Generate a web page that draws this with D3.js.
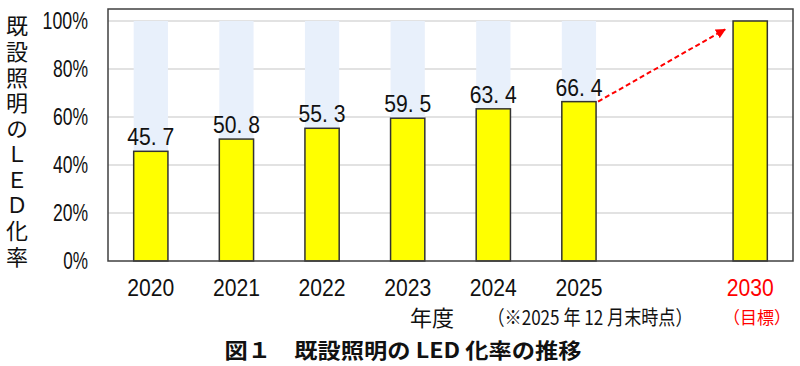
<!DOCTYPE html>
<html><head><meta charset="utf-8">
<script src="https://cdn.jsdelivr.net/npm/d3@7"></script>
<style>
body{margin:0;background:#fff;}
svg{display:block;}
</style></head>
<body>
<svg id="c" width="800" height="366"></svg>
<script>
const slots = ["2020","2021","2022","2023","2024","2025","_gap","2030"];
const years = ["2020","2021","2022","2023","2024","2025","2030"];
const values = [45.7, 50.8, 55.3, 59.5, 63.4, 66.4, 100];
const targetYear = "2030";
const yTicks = [0, 20, 40, 60, 80, 100];
const yTitle = "既設照明のＬＥＤ化率";
const xTitle = "年度";
const note = "（※2025 年 12 月末時点）";
const targetNote = "（目標）";
const caption = "図１　既設照明の LED 化率の推移";

const svg = d3.select("#c");
const L = 108, R = 793, T = 9, B = 261;
const numFont = "'Liberation Sans',Arial,sans-serif";
const jpFont = "'Noto Sans CJK JP','Noto Sans',sans-serif";

const x = d3.scaleBand().domain(slots).range([L, R]).paddingInner(0.6).paddingOuter(0.3);
const y = d3.scaleLinear().domain([0, 105]).range([B, T]);
const cx = d => x(d) + x.bandwidth() / 2;

// gridlines
svg.append("g").selectAll("line").data(yTicks.filter(d => d > 0)).join("line")
  .attr("x1", L).attr("x2", R)
  .attr("y1", d => y(d)).attr("y2", d => y(d))
  .attr("stroke", "#d9d9d9").attr("stroke-width", 1.5);

const data = years.map((yr, i) => ({yr, v: values[i]}));

// background (remaining) bars
svg.append("g").selectAll("rect").data(data.filter(d => d.yr !== targetYear)).join("rect")
  .attr("x", d => x(d.yr)).attr("width", x.bandwidth())
  .attr("y", y(100)).attr("height", d => y(d.v) - y(100))
  .attr("fill", "#e8f0fb");

// bars
svg.append("g").selectAll("rect").data(data).join("rect")
  .attr("x", d => x(d.yr)).attr("width", x.bandwidth())
  .attr("y", d => y(d.v)).attr("height", d => B - y(d.v))
  .attr("fill", "#ffff00").attr("stroke", "#333").attr("stroke-width", 1.5);

// value labels
svg.append("g").selectAll("text").data(data.filter(d => d.yr !== targetYear)).join("text")
  .attr("x", d => cx(d.yr))
  .attr("y", d => y(d.v) - 6)
  .attr("text-anchor", "middle")
  .attr("font-family", numFont).attr("font-size", 24)
  .attr("textLength", 47).attr("lengthAdjust", "spacingAndGlyphs")
  .attr("fill", "#111")
  .text(d => d.v.toFixed(1).replace(".", ". "));

// frame
svg.append("rect").attr("x", L).attr("y", T).attr("width", R - L).attr("height", B - T)
  .attr("fill", "none").attr("stroke", "#404040").attr("stroke-width", 1.5);

// y axis labels
svg.append("g").selectAll("text").data(yTicks).join("text")
  .attr("x", 88).attr("y", d => y(d)).attr("dy", "0.36em")
  .attr("text-anchor", "end")
  .attr("font-family", numFont).attr("font-size", 23).attr("fill", "#111")
  .attr("textLength", d => String(d).length * 10.3 + 14.5)
  .attr("lengthAdjust", "spacingAndGlyphs")
  .text(d => d + "%");

// y title (vertical)
svg.append("text")
  .attr("x", 17).attr("y", 15)
  .attr("writing-mode", "vertical-rl")
  .attr("font-family", jpFont).attr("font-size", 22).attr("letter-spacing", 3.6)
  .attr("fill", "#111")
  .text(yTitle);

// x labels
svg.append("g").selectAll("text").data(years).join("text")
  .attr("x", d => cx(d)).attr("y", 287).attr("dy", "0.36em")
  .attr("text-anchor", "middle")
  .attr("font-family", numFont).attr("font-size", 24)
  .attr("textLength", 47).attr("lengthAdjust", "spacingAndGlyphs")
  .attr("fill", d => d === targetYear ? "#ff0000" : "#111")
  .text(d => d);

svg.append("text").attr("x", 432).attr("y", 318).attr("dy", "0.36em")
  .attr("text-anchor", "middle").attr("font-family", jpFont).attr("font-size", 22)
  .attr("fill", "#111").text(xTitle);
svg.append("text").attr("x", 590).attr("y", 318).attr("dy", "0.36em")
  .attr("text-anchor", "middle").attr("font-family", jpFont).attr("font-size", 20)
  .attr("textLength", 205).attr("lengthAdjust", "spacingAndGlyphs")
  .attr("fill", "#111").text(note);
svg.append("text").attr("x", 757).attr("y", 318).attr("dy", "0.36em")
  .attr("text-anchor", "middle").attr("font-family", jpFont).attr("font-size", 17)
  .attr("fill", "#ff0000").text(targetNote);

svg.append("text").attr("x", 403).attr("y", 350).attr("dy", "0.36em")
  .attr("text-anchor", "middle").attr("font-family", jpFont).attr("font-size", 21)
  .attr("textLength", 357).attr("lengthAdjust", "spacingAndGlyphs")
  .attr("font-weight", "bold").attr("fill", "#111").text(caption);

// arrow
const defs = svg.append("defs");
defs.append("marker").attr("id", "ah").attr("viewBox", "0 0 10 10")
  .attr("refX", 9).attr("refY", 5).attr("markerWidth", 5).attr("markerHeight", 5)
  .attr("markerUnits", "strokeWidth").attr("orient", "auto")
  .append("path").attr("d", "M0,0L10,5L0,10Z").attr("fill", "#ff0000");
const from = data[5], to = data[6];
svg.append("line")
  .attr("x1", x(from.yr) + x.bandwidth() + 2).attr("y1", y(from.v))
  .attr("x2", x(to.yr) - 8).attr("y2", y(96.5))
  .attr("stroke", "#ff0000").attr("stroke-width", 2).attr("stroke-dasharray", "5,3")
  .attr("marker-end", "url(#ah)");
</script>
</body></html>
